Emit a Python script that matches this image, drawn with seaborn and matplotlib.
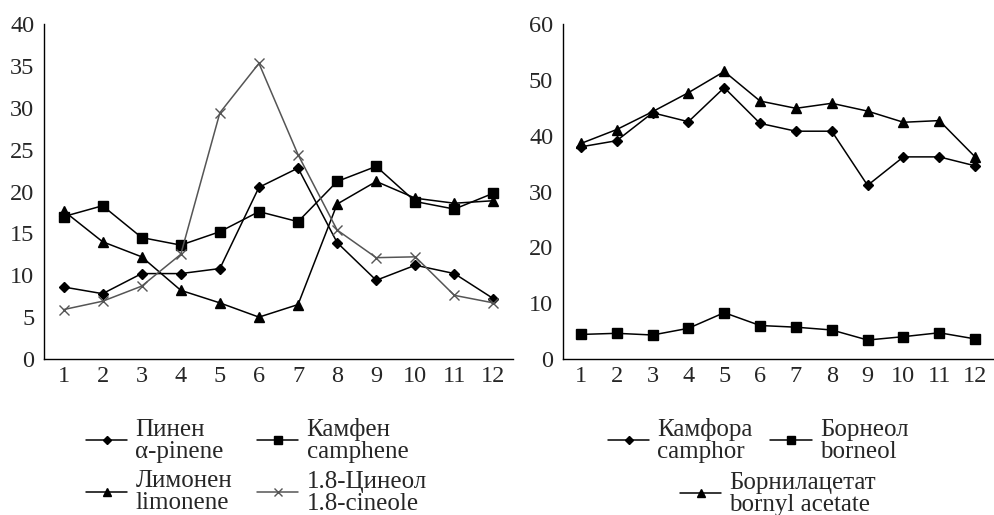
import numpy as np
import seaborn as sns
import matplotlib.pyplot as plt

months = list(range(1, 13))

# left panel
pinene = [8.6, 7.8, 10.2, 10.2, 10.8, 20.5, 22.8, 13.9, 9.4, 11.2, 10.2, 7.2]
camphene = [17.0, 18.3, 14.5, 13.6, 15.2, 17.6, 16.4, 21.2, 23.0, 18.8, 17.9, 19.8]
limonene = [17.7, 14.0, 12.2, 8.2, 6.7, 5.0, 6.5, 18.5, 21.2, 19.2, 18.6, 18.9]
cineole = [5.9, 6.9, 8.7, 12.5, 29.4, 35.3, 24.4, 15.4, 12.1, 12.2, 7.6, 6.7]

# right panel
camphor = [38.0, 39.1, 44.1, 42.5, 48.6, 42.2, 40.8, 40.8, 31.1, 36.2, 36.2, 34.6]
borneol = [4.4, 4.6, 4.3, 5.5, 8.3, 6.0, 5.7, 5.2, 3.4, 4.0, 4.7, 3.6]
bornyl_acetate = [38.6, 41.1, 44.3, 47.7, 51.5, 46.2, 44.9, 45.8, 44.4, 42.4, 42.7, 36.2]

left_names = ["Пинен\nα-pinene", "Камфен\ncamphene", "Лимонен\nlimonene", "1.8-Цинеол\n1.8-cineole"]
right_names = ["Камфора\ncamphor", "Борнеол\nborneol", "Борнилацетат\nbornyl acetate"]

sns.set_style("white")
plt.rcParams['font.family'] = ['Liberation Serif', 'DejaVu Serif']

fig = plt.figure(figsize=(9.95, 5.15), dpi=100)
ax1 = fig.add_axes([0.0442, 0.3029, 0.4714, 0.6505])
ax2 = fig.add_axes([0.5658, 0.3029, 0.4322, 0.6505])

# marker, size, color per series
left_style = [("D", 5.5, "black"), ("s", 7.5, "black"), ("^", 7, "black"), ("x", 7, "#555555")]
right_style = [("D", 5.5, "black"), ("s", 7.5, "black"), ("^", 7, "black")]

for vals, name, (mk, ms, col) in zip([pinene, camphene, limonene, cineole], left_names, left_style):
    sns.lineplot(x=months, y=vals, ax=ax1, label=name, color=col, marker=mk,
                 markersize=ms, markeredgecolor=col, markeredgewidth=1.0, linewidth=1.1)
for vals, name, (mk, ms, col) in zip([camphor, borneol, bornyl_acetate], right_names, right_style):
    sns.lineplot(x=months, y=vals, ax=ax2, label=name, color=col, marker=mk,
                 markersize=ms, markeredgecolor=col, markeredgewidth=1.0, linewidth=1.1)

for ax, ymax, step in ((ax1, 40, 5), (ax2, 60, 10)):
    ax.set_xlim(0.5, 12.5)
    ax.set_ylim(0, ymax)
    ax.set_yticks(np.arange(0, ymax + 1, step))
    ax.set_xticks(months)
    ax.set_xticks(np.arange(1.5, 12.5, 1), minor=True)
    ax.tick_params(axis="x", which="major", length=0, pad=5, labelsize=17.5)
    ax.tick_params(axis="x", which="minor", direction="in", length=5, width=1, color="black")
    ax.tick_params(axis="y", direction="out", length=5, width=1, pad=2, labelsize=17.5, color="black")
    ax.set_xlabel("")
    ax.set_ylabel("")
    sns.despine(ax=ax)
    for s in ("left", "bottom"):
        ax.spines[s].set_linewidth(1.0)
        ax.spines[s].set_color("black")
    if ax.get_legend() is not None:
        ax.get_legend().remove()

leg_kw = dict(frameon=False, fontsize=18, handlelength=1.65, handletextpad=0.33,
              borderaxespad=0, borderpad=0, markerscale=0.75)

h1, l1 = ax1.get_legend_handles_labels()
order = [0, 2, 1, 3]  # legend fills column by column
fig.legend([h1[i] for i in order], [l1[i] for i in order], ncol=2, loc="upper left",
           bbox_to_anchor=(0.0864, 0.188), columnspacing=1.0, labelspacing=0.3, **leg_kw)

h2, l2 = ax2.get_legend_handles_labels()
fig.legend(h2[:2], l2[:2], ncol=2, loc="upper left", bbox_to_anchor=(0.611, 0.188),
           columnspacing=0.7, **leg_kw)
fig.legend(h2[2:], l2[2:], loc="upper left", bbox_to_anchor=(0.6834, 0.084), **leg_kw)

for lg in fig.legends:
    for txt in lg.get_texts():
        txt.set_linespacing(1.0)

plt.savefig("out.png", dpi=100)
